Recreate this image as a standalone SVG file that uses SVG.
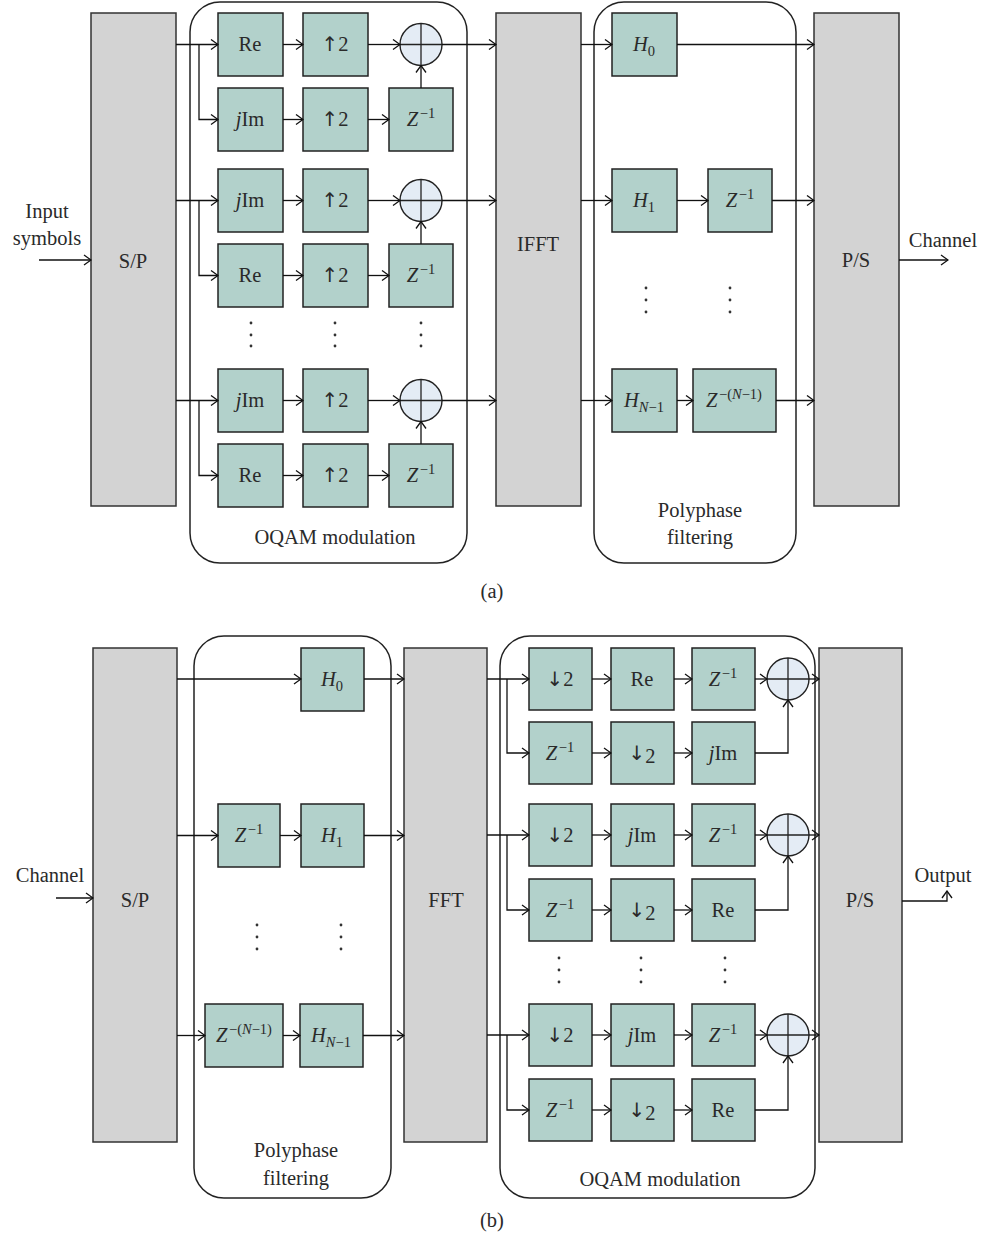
<svg xmlns="http://www.w3.org/2000/svg" width="984" height="1245" viewBox="0 0 984 1245">
<style>
text{font-family:"Liberation Serif","DejaVu Serif",serif;font-size:20.5px;fill:#2a2a2a;text-anchor:middle}
.g{fill:#d3d3d3;stroke:#333;stroke-width:1.5}
.b{fill:#b2d1cb;stroke:#222;stroke-width:1.5}
.rb{fill:none;stroke:#222;stroke-width:1.5}
.c{fill:#e4ecf5;stroke:#222;stroke-width:1.4}
.x{stroke:#222;stroke-width:1.3;fill:none}
.w{fill:none;stroke:#111;stroke-width:1.3;marker-end:url(#ah)}
.i{font-style:italic}
.s{font-size:14.5px}
.ar{font-family:"DejaVu Sans",sans-serif;font-size:20px}
.dot{fill:#333}
</style>
<defs>
<marker id="ah" markerWidth="10" markerHeight="12" refX="9" refY="6" orient="auto" markerUnits="userSpaceOnUse"><path d="M2,1 L9,6 L2,11" fill="none" stroke="#111" stroke-width="1.3"/></marker>
</defs>

<!-- ===== (a) ===== -->
<g id="a-oqam-box"><rect class="rb" x="190" y="2" width="277" height="561" rx="30"/><text x="335" y="544">OQAM modulation</text></g>
<g id="a-poly-box"><rect class="rb" x="594" y="2" width="202" height="561" rx="30"/><text x="700" y="517">Polyphase</text><text x="700" y="544">filtering</text></g>
<g id="a-input"><text x="47" y="218">Input</text><text x="47" y="245">symbols</text></g>
<g id="a-sp"><rect class="g" x="91" y="13" width="85" height="493"/><text x="133" y="268">S/P</text></g>
<g id="a-ifft"><rect class="g" x="496" y="13" width="85" height="493"/><text x="538" y="251">IFFT</text></g>
<g id="a-ps"><rect class="g" x="814" y="13" width="85" height="493"/><text x="856" y="267">P/S</text></g>
<g id="a-channel"><text x="943" y="247">Channel</text></g>

<g id="a-r1-re"><rect class="b" x="218" y="13" width="65" height="63"/><text x="250" y="51">Re</text></g>
<g id="a-r1-up"><rect class="b" x="303" y="13" width="65" height="63"/><text x="335" y="51"><tspan class="ar">↑</tspan>2</text></g>
<g id="a-r1-sum"><circle class="c" cx="421" cy="44.5" r="21"/><path class="x" d="M400,44.5H442M421,23.5V65.5"/></g>
<g id="a-r2-im"><rect class="b" x="218" y="88" width="65" height="63"/><text x="250" y="126"><tspan class="i">j</tspan>Im</text></g>
<g id="a-r2-up"><rect class="b" x="303" y="88" width="65" height="63"/><text x="335" y="126"><tspan class="ar">↑</tspan>2</text></g>
<g id="a-r2-z"><rect class="b" x="389" y="88" width="64" height="63"/><text x="421" y="126"><tspan class="i">Z</tspan><tspan class="s" dx="1.5" dy="-8">−1</tspan></text></g>

<g id="a-r3-im"><rect class="b" x="218" y="169" width="65" height="63"/><text x="250" y="207"><tspan class="i">j</tspan>Im</text></g>
<g id="a-r3-up"><rect class="b" x="303" y="169" width="65" height="63"/><text x="335" y="207"><tspan class="ar">↑</tspan>2</text></g>
<g id="a-r3-sum"><circle class="c" cx="421" cy="200.5" r="21"/><path class="x" d="M400,200.5H442M421,179.5V221.5"/></g>
<g id="a-r4-re"><rect class="b" x="218" y="244" width="65" height="63"/><text x="250" y="282">Re</text></g>
<g id="a-r4-up"><rect class="b" x="303" y="244" width="65" height="63"/><text x="335" y="282"><tspan class="ar">↑</tspan>2</text></g>
<g id="a-r4-z"><rect class="b" x="389" y="244" width="64" height="63"/><text x="421" y="282"><tspan class="i">Z</tspan><tspan class="s" dx="1.5" dy="-8">−1</tspan></text></g>

<g id="a-dots"><circle class="dot" cx="251" cy="323" r="1.4"/><circle class="dot" cx="251" cy="335" r="1.4"/><circle class="dot" cx="251" cy="346" r="1.4"/><circle class="dot" cx="335" cy="323" r="1.4"/><circle class="dot" cx="335" cy="335" r="1.4"/><circle class="dot" cx="335" cy="346" r="1.4"/><circle class="dot" cx="421" cy="323" r="1.4"/><circle class="dot" cx="421" cy="335" r="1.4"/><circle class="dot" cx="421" cy="346" r="1.4"/><circle class="dot" cx="646" cy="288" r="1.4"/><circle class="dot" cx="646" cy="300" r="1.4"/><circle class="dot" cx="646" cy="312" r="1.4"/><circle class="dot" cx="730" cy="288" r="1.4"/><circle class="dot" cx="730" cy="300" r="1.4"/><circle class="dot" cx="730" cy="312" r="1.4"/></g>

<g id="a-r5-im"><rect class="b" x="218" y="369" width="65" height="63"/><text x="250" y="407"><tspan class="i">j</tspan>Im</text></g>
<g id="a-r5-up"><rect class="b" x="303" y="369" width="65" height="63"/><text x="335" y="407"><tspan class="ar">↑</tspan>2</text></g>
<g id="a-r5-sum"><circle class="c" cx="421" cy="400.5" r="21"/><path class="x" d="M400,400.5H442M421,379.5V421.5"/></g>
<g id="a-r6-re"><rect class="b" x="218" y="444" width="65" height="63"/><text x="250" y="482">Re</text></g>
<g id="a-r6-up"><rect class="b" x="303" y="444" width="65" height="63"/><text x="335" y="482"><tspan class="ar">↑</tspan>2</text></g>
<g id="a-r6-z"><rect class="b" x="389" y="444" width="64" height="63"/><text x="421" y="482"><tspan class="i">Z</tspan><tspan class="s" dx="1.5" dy="-8">−1</tspan></text></g>

<g id="a-h0"><rect class="b" x="612" y="13" width="65" height="63"/><text x="644" y="51"><tspan class="i">H</tspan><tspan class="s" dy="5">0</tspan></text></g>
<g id="a-h1"><rect class="b" x="612" y="169" width="65" height="63"/><text x="644" y="207"><tspan class="i">H</tspan><tspan class="s" dy="5">1</tspan></text></g>
<g id="a-z1"><rect class="b" x="708" y="169" width="64" height="63"/><text x="740" y="207"><tspan class="i">Z</tspan><tspan class="s" dx="1.5" dy="-8">−1</tspan></text></g>
<g id="a-hn"><rect class="b" x="612" y="369" width="65" height="63"/><text x="644" y="407"><tspan class="i">H</tspan><tspan class="s" dy="5"><tspan class="i">N</tspan>−1</tspan></text></g>
<g id="a-zn"><rect class="b" x="693" y="369" width="83" height="63"/><text x="734" y="407"><tspan class="i">Z</tspan><tspan class="s" dx="1.5" dy="-8">−(<tspan class="i">N</tspan>−1)</tspan></text></g>

<g id="a-connectors">
<path class="w" d="M39,260H91"/>
<path class="w" d="M899,260H948"/>
<path class="w" d="M176,44.5H218"/><path class="w" d="M199,44.5V119.5H218"/>
<path class="w" d="M283,44.5H303"/><path class="w" d="M283,119.5H303"/>
<path class="w" d="M368,44.5H400"/><path class="w" d="M368,119.5H389"/>
<path class="w" d="M421,88V65.5"/><path class="w" d="M442,44.5H496"/>
<path class="w" d="M176,200.5H218"/><path class="w" d="M199,200.5V275.5H218"/>
<path class="w" d="M283,200.5H303"/><path class="w" d="M283,275.5H303"/>
<path class="w" d="M368,200.5H400"/><path class="w" d="M368,275.5H389"/>
<path class="w" d="M421,244V221.5"/><path class="w" d="M442,200.5H496"/>
<path class="w" d="M176,400.5H218"/><path class="w" d="M199,400.5V475.5H218"/>
<path class="w" d="M283,400.5H303"/><path class="w" d="M283,475.5H303"/>
<path class="w" d="M368,400.5H400"/><path class="w" d="M368,475.5H389"/>
<path class="w" d="M421,444V421.5"/><path class="w" d="M442,400.5H496"/>
<path class="w" d="M581,44.5H612"/><path class="w" d="M677,44.5H814"/>
<path class="w" d="M581,200.5H612"/><path class="w" d="M677,200.5H708"/><path class="w" d="M772,200.5H814"/>
<path class="w" d="M581,400.5H612"/><path class="w" d="M677,400.5H693"/><path class="w" d="M776,400.5H814"/>
</g>
<text x="492" y="598">(a)</text>

<!-- ===== (b) ===== -->
<g id="b-poly-box"><rect class="rb" x="194" y="636" width="197" height="562" rx="30"/><text x="296" y="1157">Polyphase</text><text x="296" y="1185">filtering</text></g>
<g id="b-oqam-box"><rect class="rb" x="500" y="636" width="315" height="562" rx="30"/><text x="660" y="1186">OQAM modulation</text></g>
<g id="b-channel"><text x="50" y="882">Channel</text></g>
<g id="b-sp"><rect class="g" x="93" y="648" width="84" height="494"/><text x="135" y="907">S/P</text></g>
<g id="b-fft"><rect class="g" x="404" y="648" width="83" height="494"/><text x="446" y="907">FFT</text></g>
<g id="b-ps"><rect class="g" x="819" y="648" width="83" height="494"/><text x="860" y="907">P/S</text></g>
<g id="b-output"><text x="943" y="882">Output</text></g>

<g id="b-h0"><rect class="b" x="301" y="648" width="63" height="63"/><text x="332" y="686"><tspan class="i">H</tspan><tspan class="s" dy="5">0</tspan></text></g>
<g id="b-z1"><rect class="b" x="218" y="804" width="62" height="63"/><text x="249" y="842"><tspan class="i">Z</tspan><tspan class="s" dx="1.5" dy="-8">−1</tspan></text></g>
<g id="b-h1"><rect class="b" x="301" y="804" width="63" height="63"/><text x="332" y="842"><tspan class="i">H</tspan><tspan class="s" dy="5">1</tspan></text></g>
<g id="b-zn"><rect class="b" x="205" y="1004" width="78" height="63"/><text x="244" y="1042"><tspan class="i">Z</tspan><tspan class="s" dx="1.5" dy="-8">−(<tspan class="i">N</tspan>−1)</tspan></text></g>
<g id="b-hn"><rect class="b" x="300" y="1004" width="63" height="63"/><text x="331" y="1042"><tspan class="i">H</tspan><tspan class="s" dy="5"><tspan class="i">N</tspan>−1</tspan></text></g>

<g id="b-r1-dn"><rect class="b" x="529" y="648" width="63" height="62"/><text x="560" y="686"><tspan class="ar">↓</tspan>2</text></g>
<g id="b-r1-re"><rect class="b" x="611" y="648" width="63" height="62"/><text x="642" y="686">Re</text></g>
<g id="b-r1-z"><rect class="b" x="692" y="648" width="63" height="62"/><text x="723" y="686"><tspan class="i">Z</tspan><tspan class="s" dx="1.5" dy="-8">−1</tspan></text></g>
<g id="b-r1-sum"><circle class="c" cx="788" cy="679" r="21"/><path class="x" d="M767,679H809M788,658V700"/></g>
<g id="b-r2-z"><rect class="b" x="529" y="722" width="63" height="62"/><text x="560" y="760"><tspan class="i">Z</tspan><tspan class="s" dx="1.5" dy="-8">−1</tspan></text></g>
<g id="b-r2-dn"><rect class="b" x="611" y="722" width="63" height="62"/><text x="642" y="760"><tspan class="ar">↓</tspan><tspan dy="3">2</tspan></text></g>
<g id="b-r2-im"><rect class="b" x="692" y="722" width="63" height="62"/><text x="723" y="760"><tspan class="i">j</tspan>Im</text></g>

<g id="b-r3-dn"><rect class="b" x="529" y="804" width="63" height="62"/><text x="560" y="842"><tspan class="ar">↓</tspan>2</text></g>
<g id="b-r3-im"><rect class="b" x="611" y="804" width="63" height="62"/><text x="642" y="842"><tspan class="i">j</tspan>Im</text></g>
<g id="b-r3-z"><rect class="b" x="692" y="804" width="63" height="62"/><text x="723" y="842"><tspan class="i">Z</tspan><tspan class="s" dx="1.5" dy="-8">−1</tspan></text></g>
<g id="b-r3-sum"><circle class="c" cx="788" cy="835" r="21"/><path class="x" d="M767,835H809M788,814V856"/></g>
<g id="b-r4-z"><rect class="b" x="529" y="879" width="63" height="62"/><text x="560" y="917"><tspan class="i">Z</tspan><tspan class="s" dx="1.5" dy="-8">−1</tspan></text></g>
<g id="b-r4-dn"><rect class="b" x="611" y="879" width="63" height="62"/><text x="642" y="917"><tspan class="ar">↓</tspan><tspan dy="3">2</tspan></text></g>
<g id="b-r4-re"><rect class="b" x="692" y="879" width="63" height="62"/><text x="723" y="917">Re</text></g>

<g id="b-dots"><circle class="dot" cx="257" cy="925" r="1.4"/><circle class="dot" cx="257" cy="937" r="1.4"/><circle class="dot" cx="257" cy="949" r="1.4"/><circle class="dot" cx="341" cy="925" r="1.4"/><circle class="dot" cx="341" cy="937" r="1.4"/><circle class="dot" cx="341" cy="949" r="1.4"/><circle class="dot" cx="559" cy="958" r="1.4"/><circle class="dot" cx="559" cy="970" r="1.4"/><circle class="dot" cx="559" cy="982" r="1.4"/><circle class="dot" cx="641" cy="958" r="1.4"/><circle class="dot" cx="641" cy="970" r="1.4"/><circle class="dot" cx="641" cy="982" r="1.4"/><circle class="dot" cx="725" cy="958" r="1.4"/><circle class="dot" cx="725" cy="970" r="1.4"/><circle class="dot" cx="725" cy="982" r="1.4"/></g>

<g id="b-r5-dn"><rect class="b" x="529" y="1004" width="63" height="62"/><text x="560" y="1042"><tspan class="ar">↓</tspan>2</text></g>
<g id="b-r5-im"><rect class="b" x="611" y="1004" width="63" height="62"/><text x="642" y="1042"><tspan class="i">j</tspan>Im</text></g>
<g id="b-r5-z"><rect class="b" x="692" y="1004" width="63" height="62"/><text x="723" y="1042"><tspan class="i">Z</tspan><tspan class="s" dx="1.5" dy="-8">−1</tspan></text></g>
<g id="b-r5-sum"><circle class="c" cx="788" cy="1035" r="21"/><path class="x" d="M767,1035H809M788,1014V1056"/></g>
<g id="b-r6-z"><rect class="b" x="529" y="1079" width="63" height="62"/><text x="560" y="1117"><tspan class="i">Z</tspan><tspan class="s" dx="1.5" dy="-8">−1</tspan></text></g>
<g id="b-r6-dn"><rect class="b" x="611" y="1079" width="63" height="62"/><text x="642" y="1117"><tspan class="ar">↓</tspan><tspan dy="3">2</tspan></text></g>
<g id="b-r6-re"><rect class="b" x="692" y="1079" width="63" height="62"/><text x="723" y="1117">Re</text></g>

<g id="b-connectors">
<path class="w" d="M56,898H93"/>
<path class="w" d="M902,901H947V891"/>
<path class="w" d="M177,679H301"/><path class="w" d="M364,679H404"/>
<path class="w" d="M177,835.5H218"/><path class="w" d="M280,835.5H301"/><path class="w" d="M364,835.5H404"/>
<path class="w" d="M177,1035.5H205"/><path class="w" d="M283,1035.5H300"/><path class="w" d="M363,1035.5H404"/>
<path class="w" d="M487,679H529"/><path class="w" d="M507,679V753H529"/>
<path class="w" d="M592,679H611"/><path class="w" d="M674,679H692"/><path class="w" d="M755,679H767"/>
<path class="w" d="M592,753H611"/><path class="w" d="M674,753H692"/><path class="w" d="M755,753H788V700"/>
<path class="w" d="M809,679H819"/>
<path class="w" d="M487,835H529"/><path class="w" d="M507,835V910H529"/>
<path class="w" d="M592,835H611"/><path class="w" d="M674,835H692"/><path class="w" d="M755,835H767"/>
<path class="w" d="M592,910H611"/><path class="w" d="M674,910H692"/><path class="w" d="M755,910H788V856"/>
<path class="w" d="M809,835H819"/>
<path class="w" d="M487,1035H529"/><path class="w" d="M507,1035V1110H529"/>
<path class="w" d="M592,1035H611"/><path class="w" d="M674,1035H692"/><path class="w" d="M755,1035H767"/>
<path class="w" d="M592,1110H611"/><path class="w" d="M674,1110H692"/><path class="w" d="M755,1110H788V1056"/>
<path class="w" d="M809,1035H819"/>
</g>
<text x="492" y="1227">(b)</text>
</svg>
